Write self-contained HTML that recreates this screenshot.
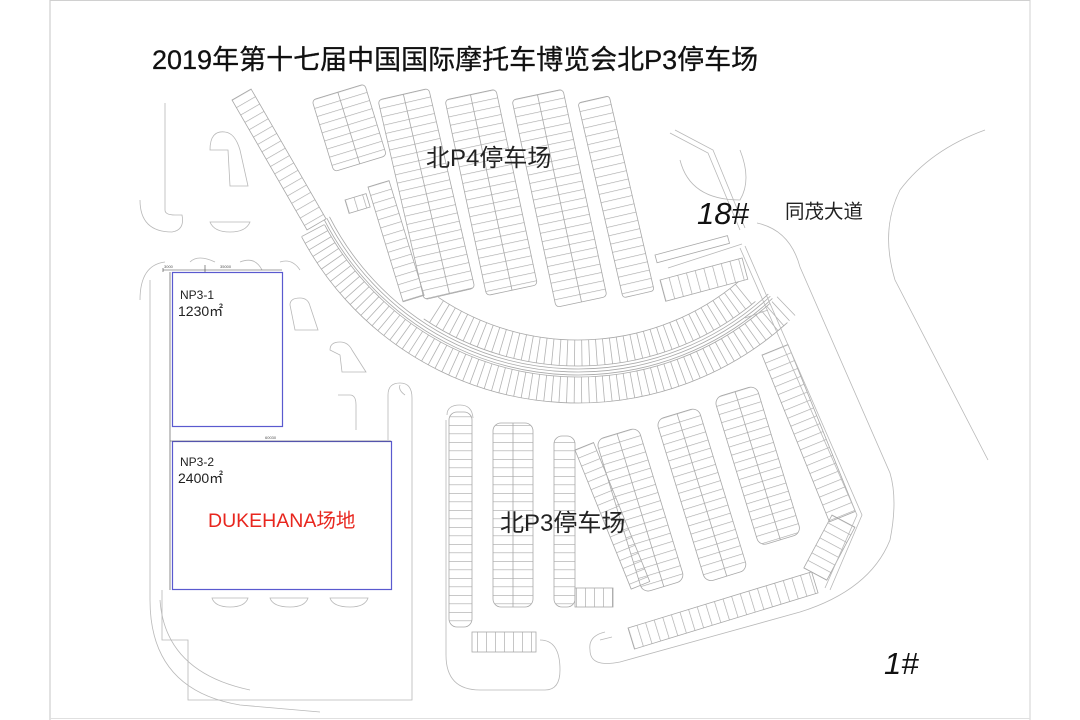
<!DOCTYPE html>
<html><head><meta charset="utf-8">
<style>
html,body{margin:0;padding:0;background:#fff;}
#w{position:relative;width:1080px;height:720px;overflow:hidden;background:#fff;}
svg{position:absolute;left:0;top:0;}
.t{font-family:"Liberation Sans","Noto Sans CJK SC",sans-serif;}
</style></head><body><div id="w">
<svg width="1080" height="720" viewBox="0 0 1080 720" xmlns="http://www.w3.org/2000/svg">
<defs>
<pattern id="h" patternUnits="userSpaceOnUse" width="200" height="8.5"><line x1="0" y1="0.3" x2="200" y2="0.3" stroke="#a8a8a8" stroke-width="0.7"/></pattern>
<pattern id="v" patternUnits="userSpaceOnUse" width="9" height="200"><line x1="0.3" y1="0" x2="0.3" y2="200" stroke="#a8a8a8" stroke-width="0.7"/></pattern>
<clipPath id="wA"><polygon points="578,90 964,550 578,700 243,587"/></clipPath>
<clipPath id="wB"><polygon points="578,90 990,510 578,720 60,362"/></clipPath>
</defs>
<line x1="50" y1="0" x2="50" y2="720" stroke="#cfcfcf" stroke-width="1.2"/>
<line x1="1030" y1="0" x2="1030" y2="720" stroke="#d8d8d8" stroke-width="1.2"/>
<line x1="50" y1="0.5" x2="1030" y2="0.5" stroke="#d0d0d0"/>
<line x1="50" y1="718.5" x2="1030" y2="718.5" stroke="#e0e0e0"/>

<g fill="none" stroke="#b8b8b8" stroke-width="0.8">
<path d="M165,103 V210 Q165,215 175,215 H182 Q185,230 172,232 Q140,232 140,200"/>
<path d="M210,150 Q210,130 225,132 Q235,133 240,150 L248,186 H230 L228,150 H210 Z"/>
<path d="M210,222 H250 Q246,232 230,232 Q214,232 210,222 Z"/>
<path d="M140,300 Q140,265 165,262 M190,262 Q198,254 215,262 M240,262 Q255,256 262,270 M280,262 Q292,258 300,270"/>
<path d="M150,280 V600 Q150,690 240,705 L320,712"/>
<path d="M162,590 V640 H188 V700 H412 V398 Q412,383 400,383 Q388,383 388,395 V440"/>
<path d="M405,395 Q398,390 400,385"/>
<path d="M160,600 Q165,672 250,690"/>
<path d="M212,598 H248 Q245,607 230,607 Q215,607 212,598 Z"/>
<path d="M270,598 H308 Q305,607 290,607 Q273,607 270,598 Z"/>
<path d="M330,598 H368 Q365,607 350,607 Q333,607 330,598 Z"/>
<path d="M290,305 Q290,298 300,298 Q308,298 310,306 L318,330 H295 Z"/>
<path d="M330,350 Q330,342 340,342 Q348,342 352,350 L366,372 H342 L340,355 Z"/>
<path d="M338,395 H350 Q356,395 356,405 V430"/>
</g>

<g fill="url(#h)" stroke="#a8a8a8" stroke-width="0.8">
<g transform="translate(232,100) rotate(-30)"><rect width="22" height="150"/></g>
<g transform="translate(312,100) rotate(-17)"><rect width="55" height="75" rx="4"/><line x1="27" y1="0" x2="27" y2="75"/></g>
<g transform="translate(378,100) rotate(-13)"><rect width="52" height="205" rx="4"/><line x1="26" y1="0" x2="26" y2="205"/></g>
<g transform="translate(445,100) rotate(-12)"><rect width="52" height="200" rx="4"/><line x1="26" y1="0" x2="26" y2="200"/></g>
<g transform="translate(512,100) rotate(-12)"><rect width="52" height="212" rx="4"/><line x1="26" y1="0" x2="26" y2="212"/></g>
<g transform="translate(578,103) rotate(-13)"><rect width="32" height="200" rx="3"/></g>
<g transform="translate(368,187) rotate(-17)"><rect width="22" height="120"/></g>
<g transform="translate(345,200) rotate(-17)"><rect width="22" height="14" fill="url(#v)"/></g>
<rect x="449" y="412" width="23" height="215" rx="8"/>
<rect x="472" y="632" width="64" height="20" fill="url(#v)"/>
<rect x="493" y="423" width="40" height="184" rx="8"/><line x1="513" y1="423" x2="513" y2="607"/>
<rect x="554" y="436" width="21" height="171" rx="8"/>
<g transform="translate(575,450) rotate(-22)"><rect width="20" height="150"/></g>
<rect x="575" y="588" width="38" height="19" fill="url(#v)"/>
<g transform="translate(596,440) rotate(-17)"><rect width="44" height="160" rx="8"/><line x1="22" y1="0" x2="22" y2="160"/></g>
<g transform="translate(656,420) rotate(-17)"><rect width="44" height="170" rx="8"/><line x1="22" y1="0" x2="22" y2="170"/></g>
<g transform="translate(714,398) rotate(-17)"><rect width="44" height="155" rx="8"/><line x1="22" y1="0" x2="22" y2="155"/></g>
<g transform="translate(762,355) rotate(-22)"><rect width="28" height="180"/></g>
<g transform="translate(832,515) rotate(28)"><rect width="26" height="60"/></g>
<g transform="translate(628,628) rotate(-17)"><rect width="192" height="22" fill="url(#v)"/></g>
<g transform="translate(660,280) rotate(-15)"><rect width="85" height="22" fill="url(#v)"/></g>
<g transform="translate(655,255) rotate(-15)"><rect width="75" height="8" fill="none"/></g>
</g>

<g fill="none">
<circle cx="578" cy="90" r="263" stroke="#aaa" stroke-width="26" stroke-dasharray="0.8 6.5" clip-path="url(#wA)" opacity="0.9"/>
<circle cx="578" cy="90" r="300" stroke="#aaa" stroke-width="26" stroke-dasharray="0.8 6.5" clip-path="url(#wB)" opacity="0.9"/>
<g stroke="#a8a8a8" stroke-width="0.8">
<circle cx="578" cy="90" r="250" pathLength="360" stroke-dasharray="74 400" transform="rotate(50 578 90)"/>
<circle cx="578" cy="90" r="276" pathLength="360" stroke-dasharray="74 400" transform="rotate(50 578 90)"/>
<circle cx="578" cy="90" r="279" pathLength="360" stroke-dasharray="106 400" transform="rotate(47 578 90)"/>
<circle cx="578" cy="90" r="282" pathLength="360" stroke-dasharray="106 400" transform="rotate(47 578 90)"/>
<circle cx="578" cy="90" r="285" pathLength="360" stroke-dasharray="106 400" transform="rotate(47 578 90)"/>
<circle cx="578" cy="90" r="287" pathLength="360" stroke-dasharray="104 400" transform="rotate(48 578 90)"/>
<circle cx="578" cy="90" r="313" pathLength="360" stroke-dasharray="104 400" transform="rotate(48 578 90)"/>
</g>
</g>

<g fill="none" stroke="#b8b8b8" stroke-width="0.8">
<path d="M740,248 L857,515 L825,588"/>
<path d="M745,246 L862,515 L830,590"/>
<path d="M668,268 L742,244"/>
<path d="M745,318 L768,310"/>
<path d="M757,223 Q790,230 800,267 L890,473 Q898,500 890,540 Q870,590 800,612 L620,662 Q590,668 590,650 Q588,636 605,632"/>
<path d="M600,640 L612,637"/>
<path d="M985,130 Q930,150 900,190 Q880,230 895,280 L988,460"/>
<path d="M675,130 L713,150 L745,228"/>
<path d="M670,133 L708,153 L740,230"/>
<path d="M680,160 Q690,200 740,200 Q752,180 740,150"/>
<path d="M447,415 Q447,405 460,405 Q472,405 473,418"/>
<path d="M446,420 V655 Q446,690 480,690 H545 Q560,690 560,670 Q560,640 540,640"/>
</g>

<g fill="none">
<rect x="172.5" y="272.5" width="110" height="154" stroke="#5a5acf" stroke-width="1.2"/>
<rect x="172.5" y="441.5" width="219" height="148" stroke="#5a5acf" stroke-width="1.2"/>
<g stroke="#444" stroke-width="0.6">
<line x1="163" y1="270" x2="282" y2="270"/>
<line x1="170" y1="441" x2="391" y2="441"/>
<line x1="170" y1="272" x2="170" y2="590"/>
<line x1="163" y1="268" x2="163" y2="272"/><line x1="205" y1="265" x2="205" y2="272"/>
</g>
</g>
<g class="t" fill="#555" font-size="4">
<text x="164" y="268">3000</text><text x="220" y="268">35000</text>
<text x="265" y="439">60030</text>
</g>

<text class="t" x="152" y="69" font-size="27" fill="#111" stroke="#111" stroke-width="0.3">2019年第十七届中国国际摩托车博览会北P3停车场</text>
<text class="t" x="426" y="166" font-size="24" fill="#222">北P4停车场</text>
<text class="t" x="500" y="531" font-size="24" fill="#222">北P3停车场</text>
<text class="t" x="785" y="218" font-size="19.5" fill="#222">同茂大道</text>
<text class="t" x="697" y="224" font-size="31" font-style="italic" fill="#111">18#</text>
<text class="t" x="884" y="674" font-size="31" font-style="italic" fill="#111">1#</text>
<text class="t" x="180" y="299" font-size="12" fill="#222">NP3-1</text>
<text class="t" x="178" y="316" font-size="14" fill="#222">1230㎡</text>
<text class="t" x="180" y="466" font-size="12" fill="#222">NP3-2</text>
<text class="t" x="178" y="483" font-size="14" fill="#222">2400㎡</text>
<text class="t" x="208" y="527" font-size="19.5" fill="#e8261e">DUKEHANA场地</text>
</svg>
</div></body></html>
